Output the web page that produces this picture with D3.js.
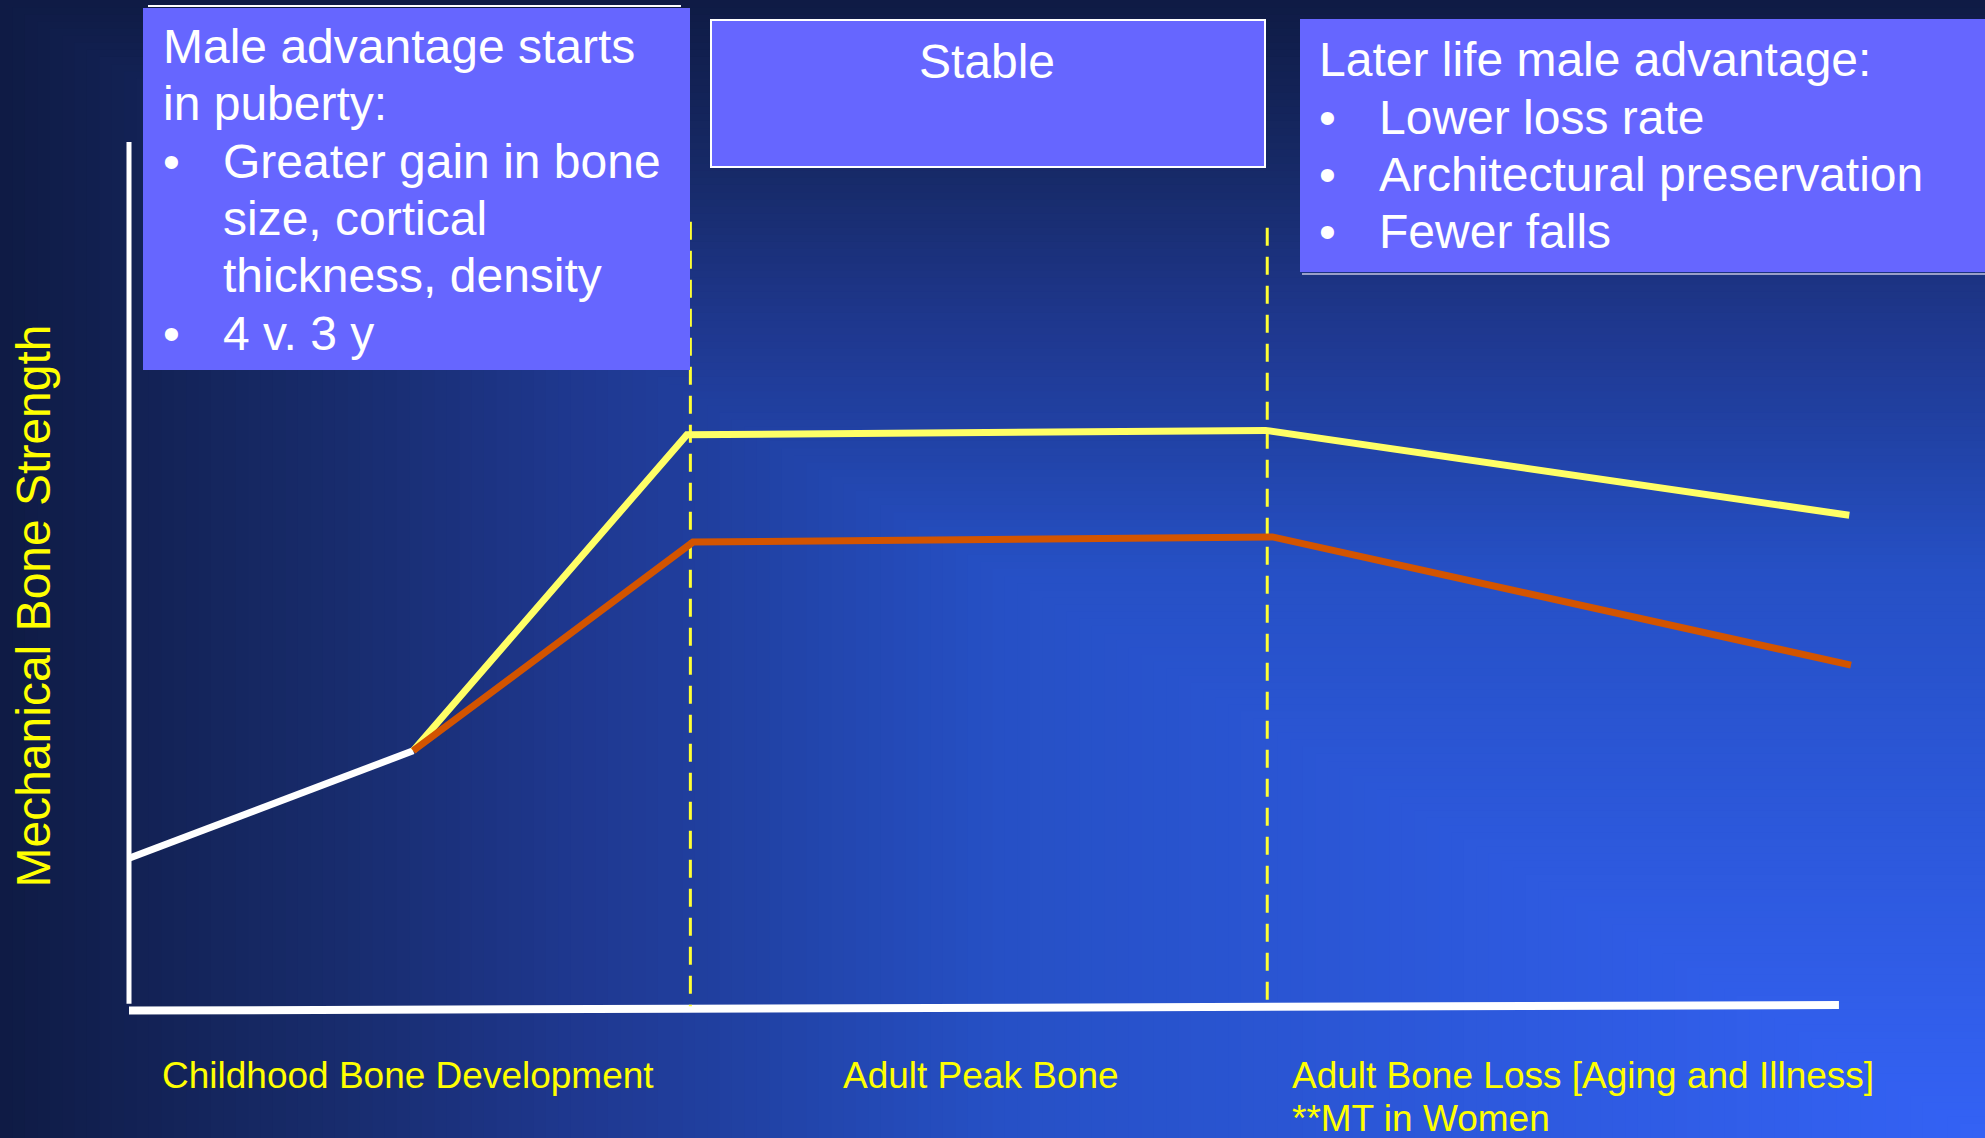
<!DOCTYPE html>
<html>
<head>
<meta charset="utf-8">
<script src="https://cdn.jsdelivr.net/npm/d3@7"></script>
<style>
  html, body { margin: 0; padding: 0; background: #0f1b45; overflow: hidden; }
  svg { display: block; }
  text { font-family: "Liberation Sans", Arial, Helvetica, sans-serif; }
</style>
</head>
<body>
<script>
// ---------- DATA ----------
// x: life stage position (0..100), y: mechanical bone strength (0..100)
const childhood = [ {x: 0, y: 17.3}, {x: 16.5, y: 29.7} ];
const males     = [ {x: 16.5, y: 29.7}, {x: 32.4, y: 66.2}, {x: 66.0, y: 66.7}, {x: 99.9, y: 56.9} ];
const females   = [ {x: 16.5, y: 29.7}, {x: 32.75, y: 53.8}, {x: 66.4, y: 54.4}, {x: 100, y: 39.6} ];
const phaseBoundaries = [ {x: 32.6, top: 90.8, bottom: 0.2}, {x: 66.1, top: 90.1, bottom: 0.5} ];
const phaseLabels = [ "Childhood Bone Development", "Adult Peak Bone", "Adult Bone Loss [Aging and Illness]" ];
const phaseNote = "**MT in Women";
const yAxisTitle = "Mechanical Bone Strength";
const box1Title = [ "Male advantage starts", "in puberty:" ];
const box1Bullets = [ ["Greater gain in bone", "size, cortical", "thickness, density"], ["4 v. 3 y"] ];
const box2Title = "Stable";
const box3Title = "Later life male advantage:";
const box3Bullets = [ "Lower loss rate", "Architectural preservation", "Fewer falls" ];

// ---------- LAYOUT ----------
const W = 1985, H = 1138;
const svg = d3.select("body").append("svg").attr("width", W).attr("height", H);

// background: rectangular "from corner" gradient, brightest at bottom-right
const bgColor = d3.scaleLinear()
  .domain([0, 0.5, 0.62, 0.71, 0.85, 1])
  .range(["#3462f5", "#2650c5", "#2142a5", "#1f3890", "#172a68", "#0f1b45"])
  .interpolate(d3.interpolateRgb);
const steps = d3.range(1, 0, -1 / 160);
svg.append("g").selectAll("rect").data(steps).join("rect")
  .attr("x", s => W * (1 - s)).attr("y", s => H * (1 - s))
  .attr("width", s => W * s + 1).attr("height", s => H * s + 1)
  .attr("fill", s => bgColor(s));

const x = d3.scaleLinear().domain([0, 100]).range([129, 1851]);
const y = d3.scaleLinear().domain([0, 100]).range([1008, 142]);

// axes (plain lines as in the reference)
svg.append("line")
  .attr("x1", x(0)).attr("x2", x(0)).attr("y1", y(100)).attr("y2", y(0.5))
  .attr("stroke", "#ffffff").attr("stroke-width", 5);
svg.append("line")
  .attr("x1", x(0)).attr("x2", x(99.3)).attr("y1", y(-0.3)).attr("y2", y(0.35))
  .attr("stroke", "#ffffff").attr("stroke-width", 8);

// dashed phase boundaries
svg.append("g").selectAll("line").data(phaseBoundaries).join("line")
  .attr("x1", d => x(d.x)).attr("x2", d => x(d.x))
  .attr("y1", d => y(d.top)).attr("y2", d => y(d.bottom))
  .attr("stroke", "#ffff33").attr("stroke-width", 3)
  .attr("stroke-dasharray", "18,11");

const line = d3.line().x(d => x(d.x)).y(d => y(d.y));
svg.append("path").datum(childhood).attr("d", line)
  .attr("fill", "none").attr("stroke", "#ffffff").attr("stroke-width", 7);
svg.append("path").datum(males).attr("d", line)
  .attr("fill", "none").attr("stroke", "#ffff66").attr("stroke-width", 7)
  .attr("stroke-linejoin", "miter");
svg.append("path").datum(females).attr("d", line)
  .attr("fill", "none").attr("stroke", "#d35400").attr("stroke-width", 7)
  .attr("stroke-linejoin", "miter");

// y-axis title
svg.append("text")
  .attr("transform", "translate(50,606) rotate(-90)")
  .attr("text-anchor", "middle")
  .attr("fill", "#ffff00").attr("font-size", 48)
  .text(yAxisTitle);

// bottom phase labels
const labelX = [162, 843, 1292];
svg.append("g").selectAll("text").data(phaseLabels).join("text")
  .attr("x", (d, i) => labelX[i]).attr("y", 1088)
  .attr("fill", "#ffff00").attr("font-size", 37)
  .text(d => d);
svg.append("text").attr("x", labelX[2]).attr("y", 1131)
  .attr("fill", "#ffff00").attr("font-size", 37).text(phaseNote);

// ---------- annotation boxes ----------
const boxFill = "#6666ff";
const fs = 48, lh = 57.3;

// box 1
svg.append("line").attr("x1", 148).attr("x2", 681).attr("y1", 6).attr("y2", 6)
  .attr("stroke", "#ffffff").attr("stroke-width", 2);
svg.append("rect").attr("x", 143).attr("y", 8).attr("width", 547).attr("height", 362).attr("fill", boxFill);
const b1 = svg.append("g").attr("fill", "#ffffff").attr("font-size", fs);
let row = 0;
box1Title.forEach(t => { b1.append("text").attr("x", 163).attr("y", 63 + lh * row++).text(t); });
box1Bullets.forEach(item => {
  b1.append("text").attr("x", 163).attr("y", 63 + lh * row).text("•");
  item.forEach(t => { b1.append("text").attr("x", 223).attr("y", 63 + lh * row++).text(t); });
});

// box 2
svg.append("rect").attr("x", 711).attr("y", 20).attr("width", 554).attr("height", 147)
  .attr("fill", boxFill).attr("stroke", "#ffffff").attr("stroke-width", 2);
svg.append("text").attr("x", 987).attr("y", 78).attr("text-anchor", "middle")
  .attr("fill", "#ffffff").attr("font-size", fs).text(box2Title);

// box 3
svg.append("rect").attr("x", 1302).attr("y", 273).attr("width", 700).attr("height", 2).attr("fill", "#9aa0c8");
svg.append("rect").attr("x", 1300).attr("y", 19).attr("width", 700).attr("height", 253).attr("fill", boxFill);
const b3 = svg.append("g").attr("fill", "#ffffff").attr("font-size", fs);
b3.append("text").attr("x", 1319).attr("y", 76).text(box3Title);
box3Bullets.forEach((t, i) => {
  b3.append("text").attr("x", 1319).attr("y", 133.5 + lh * i).text("•");
  b3.append("text").attr("x", 1379).attr("y", 133.5 + lh * i).text(t);
});
</script>
</body>
</html>
